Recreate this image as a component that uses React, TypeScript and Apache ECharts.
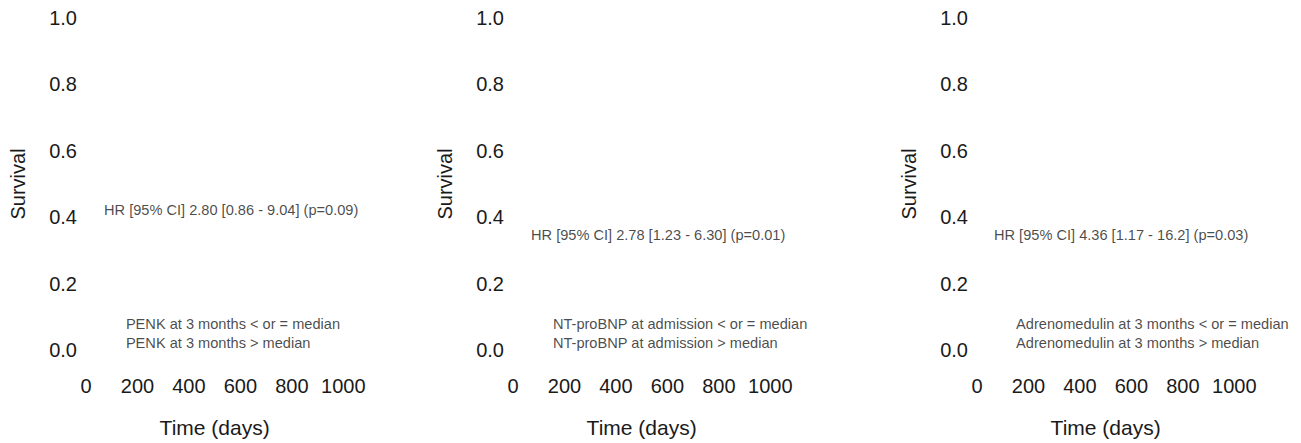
import React, { useEffect, useRef } from "react";
import * as echarts from "echarts";

// ---- data ----
const xTicks = [0, 200, 400, 600, 800, 1000];
const yTicks = [0, 0.2, 0.4, 0.6, 0.8, 1.0];
const hrTexts = [
  "HR [95% CI] 2.80 [0.86 - 9.04] (p=0.09)",
  "HR [95% CI] 2.78 [1.23 - 6.30] (p=0.01)",
  "HR [95% CI] 4.36 [1.17 - 16.2] (p=0.03)",
];
const hrAnchorX = [70, 70, 66];
const hrAnchorY = [0.422, 0.347, 0.347];
const legendLowTexts = [
  "PENK at 3 months < or = median",
  "NT-proBNP at admission < or = median",
  "Adrenomedulin at 3 months < or = median",
];
const legendHighTexts = [
  "PENK at 3 months > median",
  "NT-proBNP at admission > median",
  "Adrenomedulin at 3 months > median",
];
const legendAnchorX = [155, 155, 152];
const legendAnchorY = [0.078, 0.022];
const xAxisName = "Time (days)";
const yAxisName = "Survival";

// ---- layout ----
const panelLeft = [86, 513, 977];
const gridTop = 18;
const gridHeight = 335;
const gridWidth = 257.3;
const FONT = "'Liberation Sans', Arial, Helvetica, sans-serif";
const INK = "#1a1a1a";

export default function App() {
  const ref = useRef<HTMLDivElement>(null);
  useEffect(() => {
    if (!ref.current) return;
    const chart = echarts.init(ref.current, undefined, { renderer: "svg" });
    const grids: any[] = [];
    const xAxes: any[] = [];
    const yAxes: any[] = [];
    const series: any[] = [];
    panelLeft.forEach((left, i) => {
      grids.push({ left, top: gridTop, width: gridWidth, height: gridHeight, containLabel: false });
      xAxes.push({
        type: "value",
        gridIndex: i,
        min: xTicks[0],
        max: xTicks[xTicks.length - 1],
        interval: xTicks[1] - xTicks[0],
        axisLine: { show: false },
        axisTick: { show: false },
        splitLine: { show: false },
        axisLabel: {
          fontSize: 20,
          color: INK,
          fontFamily: FONT,
          margin: 26,
          formatter: (v: number) => String(v),
        },
        name: xAxisName,
        nameLocation: "middle",
        nameGap: 67,
        nameTextStyle: { fontSize: 21, color: INK, fontFamily: FONT },
      });
      yAxes.push({
        type: "value",
        gridIndex: i,
        min: yTicks[0],
        max: yTicks[yTicks.length - 1],
        interval: 0.2,
        axisLine: { show: false },
        axisTick: { show: false },
        splitLine: { show: false },
        axisLabel: {
          fontSize: 20,
          color: INK,
          fontFamily: FONT,
          margin: 9,
          formatter: (v: number) => v.toFixed(1),
        },
        name: yAxisName,
        nameLocation: "middle",
        nameGap: 58,
        nameTextStyle: { fontSize: 20, color: INK, fontFamily: FONT },
      });
      const labelStyle = {
        show: true,
        position: "right",
        distance: 0,
        fontSize: 14.6,
        color: INK,
        fontFamily: FONT,
        formatter: (p: any) => p.data.name,
      };
      series.push({
        type: "scatter",
        xAxisIndex: i,
        yAxisIndex: i,
        symbolSize: 0,
        silent: true,
        label: labelStyle,
        data: [
          { name: hrTexts[i], value: [hrAnchorX[i], hrAnchorY[i]] },
          { name: legendLowTexts[i], value: [legendAnchorX[i], legendAnchorY[0]] },
          { name: legendHighTexts[i], value: [legendAnchorX[i], legendAnchorY[1]] },
        ],
      });
    });
    chart.setOption({
      animation: false,
      backgroundColor: "#ffffff",
      grid: grids,
      xAxis: xAxes,
      yAxis: yAxes,
      series,
    });
    return () => chart.dispose();
  }, []);
  return (
    <div
      ref={ref}
      style={{ position: "absolute", left: 0, top: 0, width: 1301, height: 443 }}
    />
  );
}
